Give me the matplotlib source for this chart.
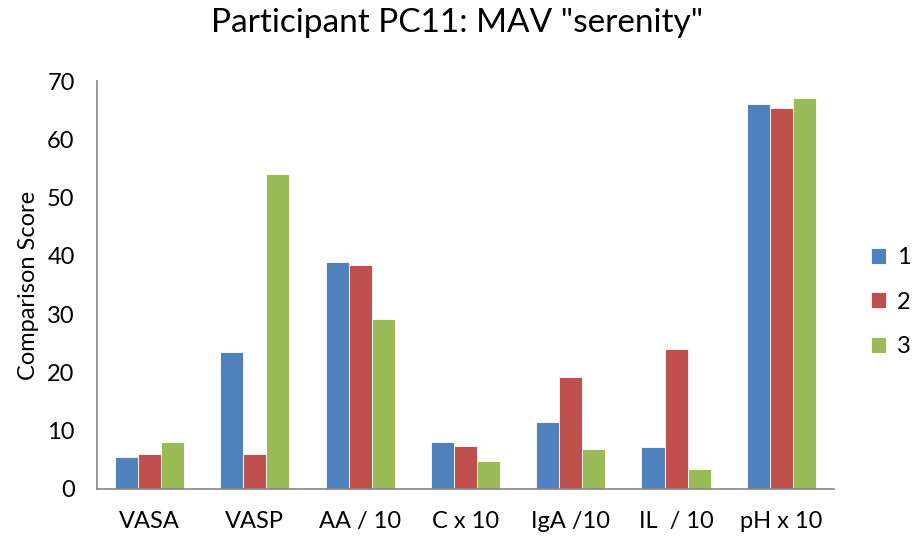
import matplotlib
matplotlib.use("Agg")
import matplotlib.pyplot as plt
import numpy as np

categories = ["VASA", "VASP", "AA / 10", "C x 10", "IgA /10", "IL  / 10", "pH x 10"]
series_names = ["1", "2", "3"]
s1 = [5.5, 23.5, 38.9, 8.0, 11.5, 7.2, 66.1]
s2 = [6.0, 6.0, 38.5, 7.4, 19.3, 24.1, 65.4]
s3 = [8.0, 54.1, 29.1, 4.8, 6.8, 3.4, 67.1]
colors = ["#4F81BD", "#C0504D", "#9BBB59"]

plt.rcParams['font.family'] = ['Lato', 'DejaVu Sans']

fig = plt.figure(figsize=(9.14, 5.37), dpi=100)
ax = fig.add_axes([0.106, 0.0894, 0.8065, 0.7596])

x = np.arange(len(categories))
w = 0.219
handles = []
for i, (vals, c) in enumerate(zip([s1, s2, s3], colors)):
    b = ax.bar(x + (i - 1) * w, vals, w, color=c, edgecolor="white", linewidth=0.6, label=series_names[i])
    handles.append(b)

ax.set_xlim(-0.5, len(categories) - 0.5)
ax.set_ylim(0, 70)
ax.set_yticks(range(0, 71, 10))
ax.set_xticks(x)
ax.set_xticklabels(categories, fontsize=17)
ax.tick_params(axis='y', labelsize=17, length=0, pad=16)
ax.tick_params(axis='x', length=0, pad=16)
for sp in ["top", "right"]:
    ax.spines[sp].set_visible(False)
for sp in ["left", "bottom"]:
    ax.spines[sp].set_color("#868686")
    ax.spines[sp].set_linewidth(1.2)
ax.set_ylabel("Comparison Score", fontsize=17, labelpad=6)
fig.suptitle('Participant PC11: MAV "serenity"', fontsize=24, y=0.985)

leg = ax.legend(handles=handles, labels=series_names, loc="center left", bbox_to_anchor=(1.05, 0.458),
                frameon=False, fontsize=17, handlelength=0.65, handleheight=0.65, labelspacing=1.0,
                handletextpad=0.45, borderaxespad=0, borderpad=0)

fig.savefig("out.png", dpi=100)
